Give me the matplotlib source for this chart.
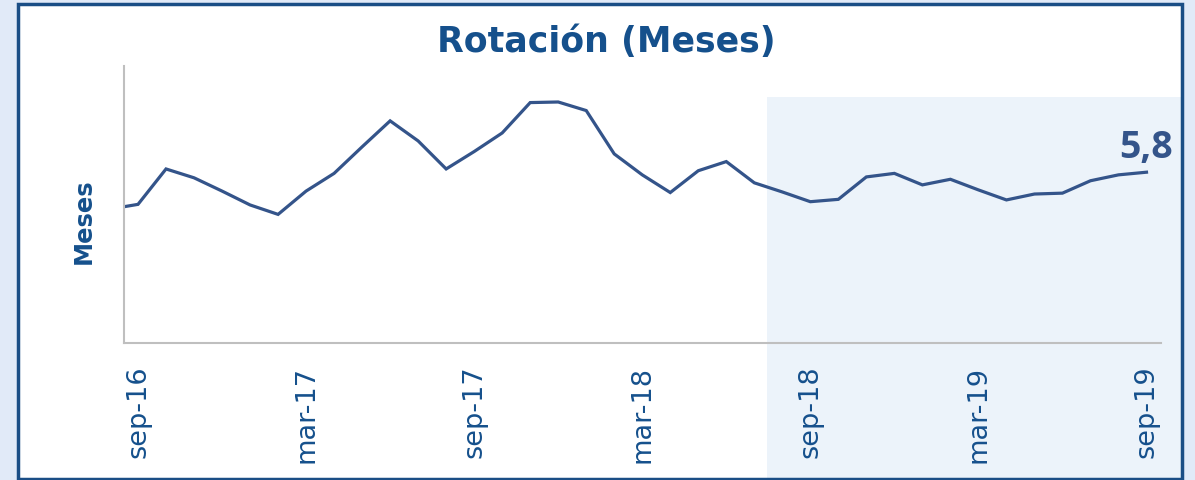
import matplotlib.pyplot as plt
from matplotlib.patches import Rectangle

# --- Données : rotation mensuelle (mois), août-16 à sep-19 ---
months = ["ago-16",
          "sep-16", "oct-16", "nov-16", "dic-16", "ene-17", "feb-17",
          "mar-17", "abr-17", "may-17", "jun-17", "jul-17", "ago-17",
          "sep-17", "oct-17", "nov-17", "dic-17", "ene-18", "feb-18",
          "mar-18", "abr-18", "may-18", "jun-18", "jul-18", "ago-18",
          "sep-18", "oct-18", "nov-18", "dic-18", "ene-19", "feb-19",
          "mar-19", "abr-19", "may-19", "jun-19", "jul-19", "ago-19",
          "sep-19"]
rotacion = [4.55,
            4.71, 5.91, 5.61, 5.16, 4.69, 4.37,
            5.16, 5.76, 6.66, 7.54, 6.86, 5.91,
            6.50, 7.13, 8.16, 8.18, 7.89, 6.42,
            5.71, 5.11, 5.85, 6.16, 5.44, 5.13,
            4.80, 4.88, 5.64, 5.76, 5.37, 5.56,
            5.20, 4.86, 5.06, 5.09, 5.51, 5.71,
            5.80]
tick_labels = ["sep-16", "mar-17", "sep-17", "mar-18", "sep-18", "mar-19", "sep-19"]
shade_from = 22.47   # début de la zone ombrée (index de mois depuis sep-16)
last_label = "5,8"

DARK_BLUE = "#15508C"
LINE_BLUE = "#34548A"
BG_BLUE = "#E1EAF8"
SHADE = "#ECF3FA"

fig = plt.figure(figsize=(11.95, 4.8), dpi=100)
fig.patch.set_facecolor(BG_BLUE)

# cadre blanc
frame_right = 1181 / 1195
fig.patches.append(Rectangle((17 / 1195, 0), frame_right - 17 / 1195, 1 - 3 / 480,
                             transform=fig.transFigure, facecolor="white",
                             edgecolor="none", zorder=-3))

ax = fig.add_axes([124 / 1195, 1 - 343.3 / 480, (1160.5 - 124) / 1195, (343.3 - 66) / 480])
ax.set_facecolor("none")

x = [i - 1 for i in range(len(rotacion))]
ax.plot(x, rotacion, color=LINE_BLUE, lw=2.3, solid_joinstyle="miter")
ax.set_xlim(-0.5, 36.5)
ax.set_ylim(0, 9.4)

# zone ombrée (déborde de l'axe jusqu'au cadre)
shade_left = fig.transFigure.inverted().transform(ax.transData.transform((shade_from, 0)))[0]
fig.patches.append(Rectangle((shade_left, 0), frame_right - shade_left, 1 - 97 / 480,
                             transform=fig.transFigure, facecolor=SHADE,
                             edgecolor="none", zorder=-2))

ax.set_xticks([0, 6, 12, 18, 24, 30, 36])
ax.set_xticklabels(tick_labels, rotation=90, color=DARK_BLUE, fontsize=19.5)
ax.set_yticks([])
ax.tick_params(axis="x", length=0, pad=16)
for side in ["top", "right"]:
    ax.spines[side].set_visible(False)
for side in ["left", "bottom"]:
    ax.spines[side].set_color("#BFBFBF")
    ax.spines[side].set_linewidth(1.5)

ax.set_ylabel("Meses", color=DARK_BLUE, fontsize=17.5, fontweight="bold")
ax.yaxis.set_label_coords(-0.027, 0.44)

ax.annotate(last_label, (x[-1], rotacion[-1]), xytext=(0, 10), textcoords="offset points",
            ha="center", va="baseline", color=LINE_BLUE, fontsize=27, fontweight="bold",
            family="Open Sans", annotation_clip=False)

fig.text(606 / 1195, 1 - 42 / 480, "Rotación (Meses)", ha="center", va="center",
         color=DARK_BLUE, fontsize=25, fontweight="bold")

# bordure du cadre
fig.patches.append(Rectangle((18 / 1195, 1 / 480), (1182 - 18) / 1195, 1 - 5 / 480,
                             transform=fig.transFigure, fill=False,
                             edgecolor="#1A4E86", lw=2.5, zorder=5))

fig.savefig("out.png", dpi=100, facecolor=fig.get_facecolor())
